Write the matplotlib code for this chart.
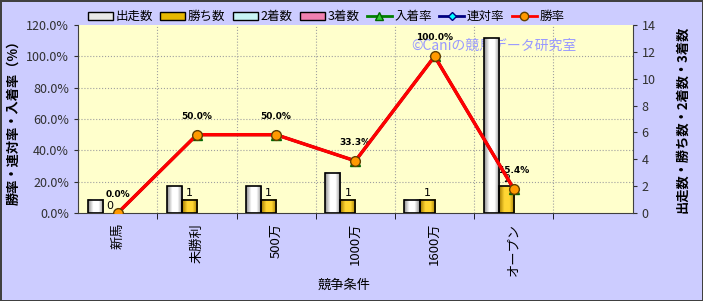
import matplotlib.pyplot as plt
import numpy as np
from matplotlib.colors import LinearSegmentedColormap
from matplotlib.patches import Patch
from matplotlib.lines import Line2D

plt.rcParams['font.family'] = ['Noto Sans CJK JP', 'DejaVu Sans']

# data
categories = ["新馬", "未勝利", "500万", "1000万", "1600万", "オープン", ""]
starts = [1, 2, 2, 3, 1, 13]
wins = [0, 1, 1, 1, 1, 2]
seconds = [0, 0, 0, 0, 0, 0]
thirds = [0, 0, 0, 0, 0, 0]
win_rate = [0.0, 50.0, 50.0, 33.3, 100.0, 15.4]
rentai_rate = [0.0, 50.0, 50.0, 33.3, 100.0, 15.4]
place_rate = [0.0, 50.0, 50.0, 33.3, 100.0, 15.4]
rate_ticks = [0, 20, 40, 60, 80, 100, 120]
count_ticks = [0, 2, 4, 6, 8, 10, 12, 14]

fig = plt.figure(figsize=(7.03, 3.01), dpi=100)
fig.patch.set_facecolor('#CCCCFF')
fig.patch.set_edgecolor('#404040')
fig.patch.set_linewidth(2)

ax = fig.add_axes([0.111, 0.292, 0.789, 0.625])
ax.set_facecolor('#FFFFCC')
ax2 = ax.twinx()

# gradient "cylinder" bars
def grad_cmap(edge, mid):
    return LinearSegmentedColormap.from_list('g', [edge, mid, mid, edge], N=64)

cmap_start = grad_cmap('#8c8c8c', '#ffffff')
cmap_win = grad_cmap('#a07800', '#ffd633')
cmap_2nd = grad_cmap('#70c0c0', '#e0ffff')
cmap_3rd = grad_cmap('#c06090', '#ffc0e0')

x = np.arange(len(starts))
w = 0.19
grad = np.linspace(0, 1, 64).reshape(1, -1)
series = [(starts, cmap_start, -1.5), (wins, cmap_win, -0.5),
          (seconds, cmap_2nd, 0.5), (thirds, cmap_3rd, 1.5)]
for vals, cm, off in series:
    for xi, v in zip(x, vals):
        if v <= 0:
            continue
        x0 = xi + off * w - w / 2
        ax.imshow(grad, cmap=cm, extent=[x0, x0 + w, 0, v], aspect='auto', zorder=2)
        ax.add_patch(plt.Rectangle((x0, 0), w, v, fill=False, edgecolor='black', lw=1.2, zorder=3))

# count labels on wins
for xi, v in zip(x, wins):
    ax.text(xi - 0.5 * w, v + 0.15, str(v), ha='center', va='bottom', fontsize=8,
            family='DejaVu Sans', zorder=4)

ax.set_xlim(-0.5, 6.5)
ax.set_ylim(0, 14)
ax.set_yticks(count_ticks)
ax.yaxis.tick_right()
ax.yaxis.set_label_position('right')
ax.set_xticks(range(len(categories)))
ax.set_xticklabels(categories, rotation=90, fontsize=9.5)
ax.tick_params(axis='x', length=0, pad=7)
ax.set_xticks(np.arange(0.5, 6.5, 1), minor=True)
ax.tick_params(axis='x', which='minor', length=4)
ax.tick_params(axis='y', labelsize=9, colors='#303030', length=3)
ax.grid(True, which='minor', axis='x', color='#a0a0a0', linestyle=':', lw=0.8)
# horizontal grid follows the left (rate) axis
for t in rate_ticks[1:-1]:
    ax.axhline(t * 14 / 120, color='#a0a0a0', linestyle=':', lw=0.8, zorder=0.5)
ax.set_axisbelow(True)
ax.set_ylabel("出走数・勝ち数・2着数・3着数", rotation=90, fontsize=9.5, fontweight='bold', labelpad=14)
ax.set_xlabel("競争条件", fontsize=9.5, va='center')
ax.xaxis.set_label_coords(0.48, -0.385)
for s in ['top', 'left']:
    ax.spines[s].set_visible(False)
ax.spines['bottom'].set_color('#404040')
ax.spines['right'].set_color('#404040')

ax.text(0.75, 0.89, "©Caniの競馬データ研究室", transform=ax.transAxes, fontsize=10,
        color='#9999ff', ha='center', va='center', zorder=1)

# rates
xr = np.arange(len(win_rate))
ax2.plot(xr, place_rate, color='green', lw=2, marker='^', ms=7, mfc='#33cc33', mec='#006600', zorder=3)
ax2.plot(xr, rentai_rate, color='navy', lw=2, marker='D', ms=5, mfc='cyan', mec='navy', zorder=4)
ax2.plot(xr, win_rate, color='#ff0000', lw=2.5, marker='o', ms=7, mfc='#ff9900', mec='#604000', zorder=5)
for xi, v in zip(xr, win_rate):
    ax2.annotate(f"{v:.1f}%", (xi, v), xytext=(0, 10), textcoords='offset points',
                 ha='center', va='bottom', fontsize=6.5, fontweight='bold', family='DejaVu Sans')
ax2.set_ylim(0, 120)
ax2.set_yticks(rate_ticks)
ax2.set_yticklabels([f"{t:.1f}%" for t in rate_ticks])
ax2.yaxis.tick_left()
ax2.yaxis.set_label_position('left')
ax2.tick_params(axis='y', labelsize=9, colors='#303030', length=3)
ax2.set_ylabel("勝率・連対率・入着率（%）", fontsize=9.5, fontweight='bold', labelpad=4)
ax2.spines['left'].set_color('#404040')
for s in ['top', 'right', 'bottom']:
    ax2.spines[s].set_visible(False)

handles = [
    Patch(facecolor='#e8e8e8', edgecolor='black', label='出走数'),
    Patch(facecolor='#e6b800', edgecolor='black', label='勝ち数'),
    Patch(facecolor='#c8f4f4', edgecolor='black', label='2着数'),
    Patch(facecolor='#f080b0', edgecolor='black', label='3着数'),
    Line2D([], [], color='green', lw=2, marker='^', mfc='#33cc33', mec='#006600', ms=6, label='入着率'),
    Line2D([], [], color='navy', lw=2, marker='D', mfc='cyan', mec='navy', ms=4, label='連対率'),
    Line2D([], [], color='red', lw=2, marker='o', mfc='#ff9900', mec='#604000', ms=6, label='勝率'),
]
fig.legend(handles=handles, loc='center', bbox_to_anchor=(0.464, 0.945), ncol=7, frameon=False,
           fontsize=9, handlelength=2.0, handleheight=0.6, columnspacing=0.6, handletextpad=0.2)

fig.savefig('out.png', dpi=100, facecolor=fig.get_facecolor(), edgecolor=fig.get_edgecolor())
